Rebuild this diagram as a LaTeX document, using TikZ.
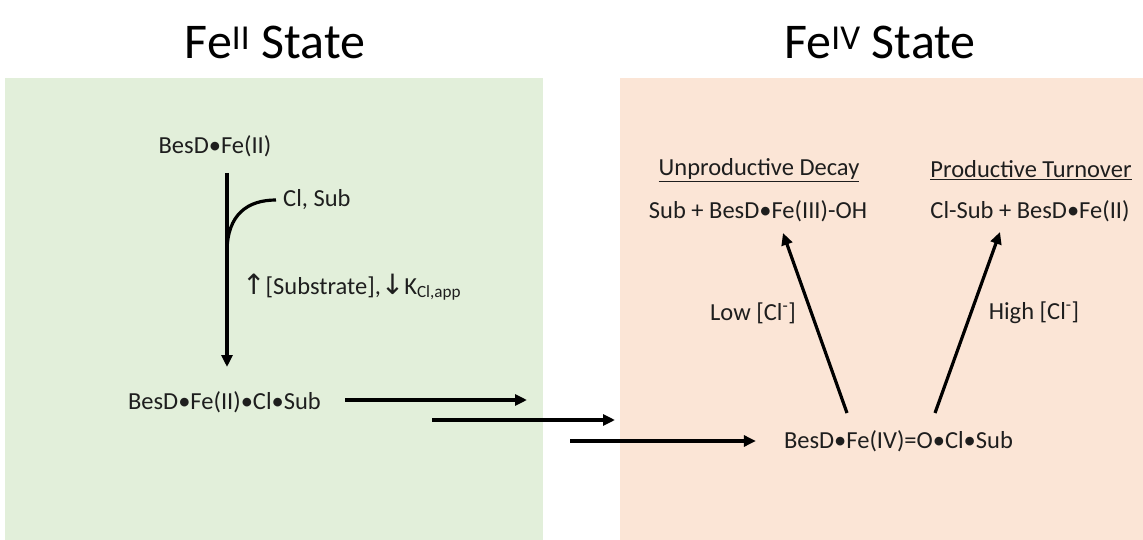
\documentclass[tikz,border=0pt]{standalone}
\usepackage{fontspec}
\setmainfont{Carlito}
\newfontfamily\arrowfont{DejaVu Sans}
\usetikzlibrary{arrows.meta}
\definecolor{fetwo}{HTML}{E2EFDA}
\definecolor{fefour}{HTML}{FBE5D6}
\definecolor{ink}{HTML}{1E1E1E}

\begin{document}
\begin{tikzpicture}[x=1pt,y=-1pt,
  lbl/.style={font=\fontsize{24.5}{28}\selectfont, inner sep=0pt, text=ink},
  ttl/.style={font=\fontsize{50}{58}\selectfont, inner sep=0pt},
  rxn/.style={line width=3.2pt, -{Triangle[length=12pt,width=11pt]}}]
\useasboundingbox (0,0) rectangle (1143,540);
% the two state panels
\fill[fetwo] (5,78) rectangle (543,540);
\fill[fefour] (620,78) rectangle (1143,540);
\node[ttl] (ttwo) at (275,42) {Fe\textsuperscript{II} State};
\node[ttl] (tfour) at (880,42) {Fe\textsuperscript{IV} State};
% Fe(II) side
\node[lbl] (besd) at (215,146) {BesD•Fe(II)};
\node[lbl, anchor=west] (clsub) at (283,200) {Cl, Sub};
\node[lbl, anchor=west] (cond) at (242,287) {{\arrowfont\fontsize{28}{28}\selectfont ↑}[Substrate],{\arrowfont\fontsize{28}{28}\selectfont ↓}K\textsubscript{Cl,app}};
\node[lbl] (complex) at (224.5,402) {BesD•Fe(II)•Cl•Sub};
\coordinate (vtop) at (227,173);
\coordinate (vbot) at (227,367);
\draw[rxn] (vtop) -- (vbot);
\draw[line width=3.2pt] (227,252) .. controls (227,214) and (248,200) .. ([xshift=-7pt]clsub.west);
% across the gap
\coordinate (aa) at (345,400);
\coordinate (ab) at (527,400);
\coordinate (ba) at (432,420);
\coordinate (bb) at (615,420);
\coordinate (ca) at (570,441);
\draw[rxn] (aa) -- (ab);
\draw[rxn] (ba) -- (bb);
% Fe(IV) side
\node[lbl] (ferryl) at (898.5,441) {BesD•Fe(IV)=O•Cl•Sub};
\draw[rxn] (ca) -- ([xshift=-28pt]ferryl.west);
\node[lbl] (decay) at (759,170) {\underline{Unproductive Decay}};
\node[lbl] (turn) at (1031,170) {\underline{Productive Turnover}};
\node[lbl] (ohprod) at (758,211) {Sub + BesD•Fe(III)-OH};
\node[lbl] (clprod) at (1030,211) {Cl-Sub + BesD•Fe(II)};
\coordinate (lowa) at (847,413);
\coordinate (lowb) at (783,233);
\coordinate (higha) at (935,413);
\coordinate (highb) at (1000,232);
\draw[rxn] (lowa) -- (lowb);
\draw[rxn] (higha) -- (highb);
\node[lbl] (low) at (753,313) {Low [Cl\textsuperscript{-}]};
\node[lbl] (high) at (1034,313) {High [Cl\textsuperscript{-}]};
\end{tikzpicture}
\end{document}
